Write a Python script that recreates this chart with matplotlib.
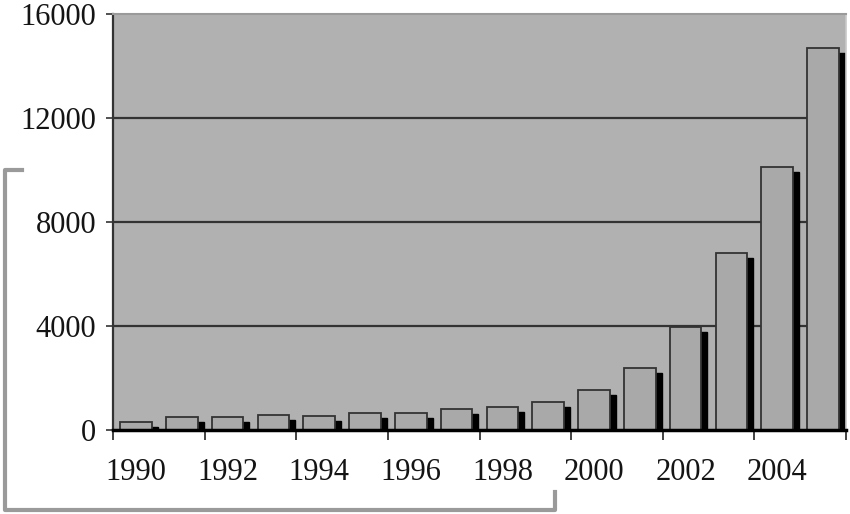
import matplotlib.pyplot as plt
import matplotlib.transforms as mtransforms
from matplotlib.lines import Line2D
import numpy as np

# values
years = [1990, 1991, 1992, 1993, 1994, 1995, 1996, 1997,
         1998, 1999, 2000, 2001, 2002, 2003, 2004, 2005]
values = [320, 510, 510, 570, 550, 640, 640, 800,
          870, 1070, 1540, 2400, 3980, 6820, 10130, 14680]
year_labels = ["1990", "1992", "1994", "1996", "1998", "2000", "2002", "2004"]
y_ticks = [0, 4000, 8000, 12000, 16000]

plt.rcParams['font.family'] = ['Liberation Serif', 'DejaVu Serif']

fig = plt.figure(figsize=(8.5, 5.14), dpi=100)
ax = fig.add_axes([113 / 850, 1 - 430 / 514, 733 / 850, 416 / 514])
ax.set_facecolor('#b1b1b1')

x = np.arange(len(years))
bar_w = 0.69

# black drop shadow, shifted right and down by a few pixels
shadow_tf = ax.transData + mtransforms.ScaledTranslation(6 / 100, -5 / 100, fig.dpi_scale_trans)
ax.bar(x, values, width=bar_w, color='black', edgecolor='black',
       transform=shadow_tf, zorder=2)
ax.bar(x, values, width=bar_w, color='#a9a9a9', edgecolor='#333333',
       linewidth=1.3, zorder=3)

ax.set_xlim(-0.5, len(years) - 0.5)
ax.set_ylim(0, 16000)

ax.set_yticks(y_ticks)
ax.set_yticklabels([str(v) for v in y_ticks])
for yv in y_ticks[1:-1]:
    ax.axhline(yv, color='#333333', linewidth=1.6, zorder=1)

# tick marks every two categories at the slot boundaries, labels centred on the even years
ax.set_xticks(np.arange(-0.5, len(years), 2))
ax.set_xticklabels([])
ax.set_xticks(x[::2], minor=True)
ax.set_xticklabels(year_labels, minor=True)
ax.tick_params(axis='x', which='major', length=7, width=1.2, color='#222222', direction='out')
ax.tick_params(axis='x', which='minor', length=0, pad=20, labelsize=22, labelcolor='#141414')
ax.tick_params(axis='y', length=5, width=1.2, color='#333333', pad=7,
               labelsize=22, labelcolor='#141414')

ax.spines['left'].set_color('#333333')
ax.spines['left'].set_linewidth(1.6)
ax.spines['bottom'].set_color('black')
ax.spines['bottom'].set_linewidth(2.5)
ax.spines['bottom'].set_zorder(4)
ax.spines['top'].set_color('#9a9a9a')
ax.spines['top'].set_linewidth(1.5)
ax.spines['right'].set_color('#c8c8c8')
ax.spines['right'].set_linewidth(1.2)

# grey bracket around the lower left of the page
bx = np.array([22, 5, 5, 555, 555]) / 850
by = 1 - np.array([170, 170, 510, 510, 492]) / 514
fig.add_artist(Line2D(bx, by, transform=fig.transFigure, color='#9a9a9a', linewidth=3))

fig.savefig('out.png', dpi=100)
